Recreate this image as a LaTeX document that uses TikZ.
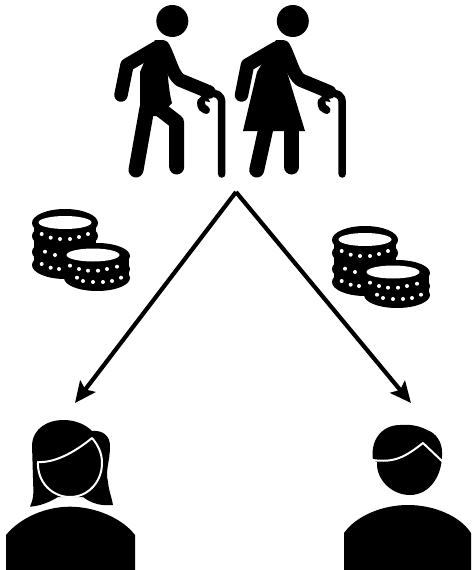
\documentclass[tikz,border=0pt]{standalone}
\usetikzlibrary{arrows.meta}

\begin{document}
\begin{tikzpicture}[
	x=1pt, y=-1pt,
	limb/.style={draw=black, line width=15pt, line cap=round, line join=round},
	armlimb/.style={draw=black, line width=13.5pt, line cap=round, line join=round},
	canebar/.style={draw=black, line width=7.5pt, line cap=round, line join=round},
	silhouette/.style={fill=black, draw=none},
	outline/.style={draw=white, line width=2pt, line join=round},
	arrow/.style={-{Stealth[length=21pt, width=19pt, inset=4pt]}, line width=4.2pt, black},
	walker/.pic={
		\fill (172.3,21) circle (16);
		\draw[armlimb] (156,48) -- (127,65) -- (121,95);
		\draw[armlimb] (163,47) .. controls (170,60) and (172,74) .. (180,80) -- (209,92);
		\draw[canebar] (221.7,174) -- (221.7,103) .. controls (221.7,94) and (216,93) .. (209,93);
		\draw[line width=8pt, line cap=round] (201,102) .. controls (201,107) and (203,109) .. (206,110);
		\fill (205,92) -- (198,100) -- (210,102) -- cycle;
	},
	coinstack/.pic={
		\foreach \cy in {223,236,252,265}
			\fill (65,\cy) ellipse (33 and 14);
		\fill (34,223) rectangle (96,265);
		\foreach \cy in {256,269,278}
			\fill (97,\cy) ellipse (33 and 13);
		\fill (65,256) rectangle (129,278);
		\fill[white] (65,222.5) ellipse (26.5 and 6.5);
		\fill[white] (93,255) ellipse (26.5 and 6.5);
		\foreach \dx/\dy in {41.7/234, 50.7/237.7, 60/239, 70/239, 79/237, 88/234,
			45/251.7, 55/255, 41.7/264, 50.7/267.7, 59/269,
			70/265.7, 79/269, 88/270.7, 98/270.7, 107/269, 117/266.7,
			77/277.7, 83/281, 93/282, 103/282, 112/281, 121/277.7}
			\fill[white] (\dx,\dy) circle (2);
	}
	]
	
	\useasboundingbox (0,0) rectangle (471,570);
	\fill[white] (0,0) rectangle (471,570);
	
	% ======================
	% Parents
	% ======================
	\pic (father) at (0,0) {walker};
	\fill (155,40) -- (164,40) .. controls (167,60) and (168,90) .. (172,103) -- (160,116) -- (140,116) -- (140,72) -- (150,48) -- cycle;
	\draw[limb] (147,108) -- (136,170);
	\draw[limb] (161,110) -- (176.5,122) -- (176.7,167);
	
	\pic (mother) at (120.5,0) {walker};
	\fill (276,40) -- (284,40) .. controls (287,55) and (286,65) .. (287,72) -- (305,131) -- (243,131) -- (257,72) -- (270,50) -- cycle;
	\draw[limb] (266,128) -- (256.7,170);
	\draw[limb] (291.7,128) -- (291.7,167);
	
	% ======================
	% Coins
	% ======================
	\pic (coinsleft) at (0,0) {coinstack};
	\pic (coinsright) at (300,17) {coinstack};
	
	% ======================
	% Transfers
	% ======================
	\coordinate (apex) at (236,192);
	\coordinate (daughter) at (75,403);
	\coordinate (son) at (411,403);
	\draw[arrow] (apex) -- (daughter);
	\draw[arrow] (apex) -- (son);
	
	% ======================
	% Daughter
	% ======================
	\fill[silhouette] (30,506.7) .. controls (35,495) and (33,490) .. (33,478)
		-- (32,445) .. controls (33,428) and (48,420) .. (63,420)
		.. controls (75,420) and (85,424) .. (92,431)
		.. controls (103,430) and (110,436) .. (110,446)
		.. controls (110,462) and (105,470) .. (108,482)
		.. controls (109,492) and (112,498) .. (113,505)
		.. controls (102,506) and (92,504) .. (83,497)
		-- (58,497) .. controls (50,502) and (40,506) .. (30,506.7) -- cycle;
	\draw[outline, fill=black] (38,462) .. controls (55,463) and (75,452) .. (92,438)
		.. controls (98,445) and (102,453) .. (102,463)
		.. controls (102,482) and (88,497) .. (70,497)
		.. controls (52,497) and (37,482) .. (38,462) -- cycle;
	\fill[silhouette] (6,570) -- (6,535) .. controls (20,518) and (45,506.7) .. (70,506.7)
		.. controls (95,506.7) and (122,518) .. (135,535) -- (135,570) -- cycle;
	
	% ======================
	% Son
	% ======================
	\fill[silhouette] (373,460) .. controls (370,440) and (382,425) .. (400,425)
		.. controls (410,424) and (420,426) .. (427,430)
		.. controls (436,433) and (442,442) .. (442,452)
		.. controls (443,475) and (430,495) .. (410,495)
		.. controls (392,495) and (376,480) .. (377,462) -- cycle;
	\draw[outline] (372,460) .. controls (395,463) and (405,457) .. (423,443) -- (443,462);
	\fill[silhouette] (344,570) -- (344,533) .. controls (356,516) and (382,505) .. (408,505)
		.. controls (434,505) and (460,516) .. (471,533) -- (471,570) -- cycle;
	
\end{tikzpicture}
\end{document}
